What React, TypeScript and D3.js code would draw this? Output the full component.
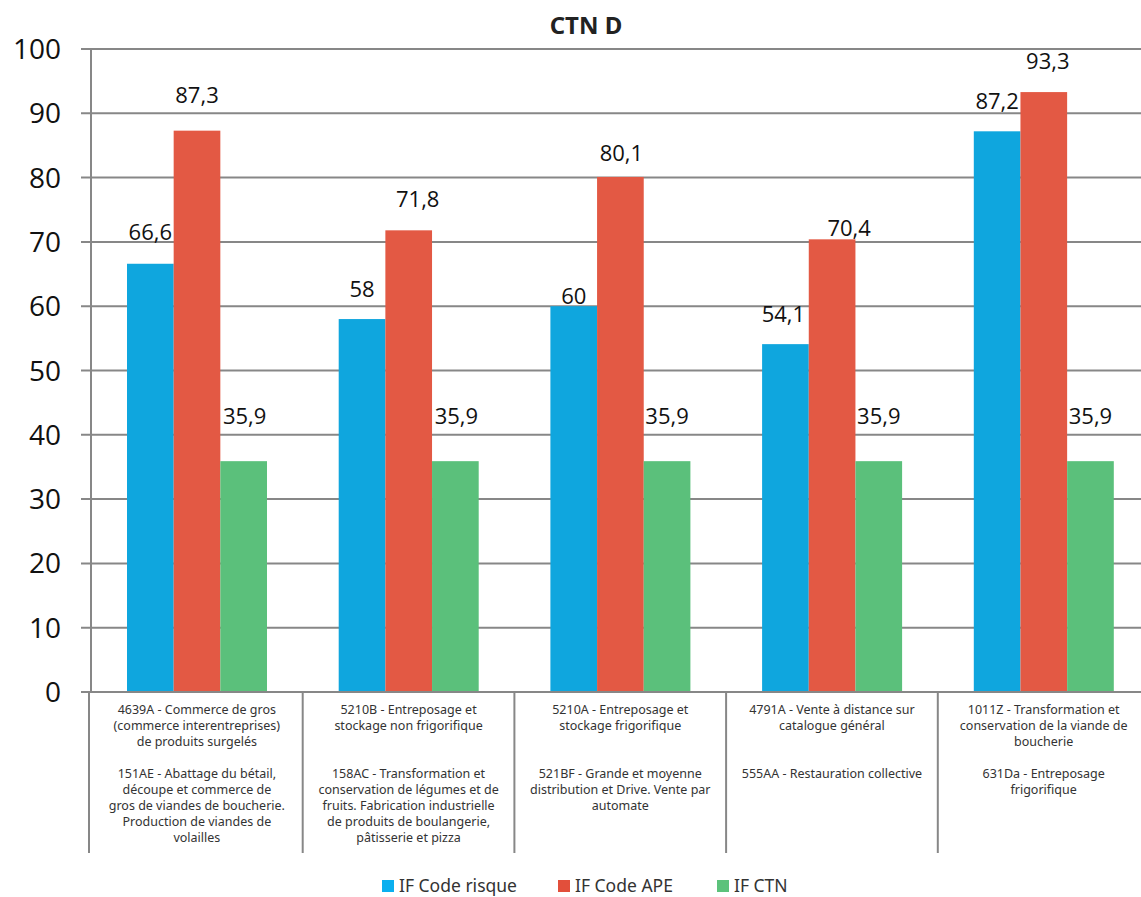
import React from "react";
import { scaleBand, scaleLinear, range } from "d3";

const title = "CTN D";

const seriesNames = ["IF Code risque", "IF Code APE", "IF CTN"];
const seriesColors = ["#0FA6DE", "#E35944", "#5BC07B"];
const legendColors = ["#0AAFEF", "#E24F3B", "#5CC27B"];

const categories = [
  [
    ["4639A - Commerce de gros", "(commerce interentreprises)", "de produits surgelés"],
    ["151AE - Abattage du bétail,", "découpe et commerce de", "gros de viandes de boucherie.", "Production de viandes de", "volailles"],
  ],
  [
    ["5210B - Entreposage et", "stockage non frigorifique"],
    ["158AC - Transformation et", "conservation de légumes et de", "fruits. Fabrication industrielle", "de produits de boulangerie,", "pâtisserie et pizza"],
  ],
  [
    ["5210A - Entreposage et", "stockage frigorifique"],
    ["521BF - Grande et moyenne", "distribution et Drive. Vente par", "automate"],
  ],
  [
    ["4791A - Vente à distance sur", "catalogue général"],
    ["555AA - Restauration collective"],
  ],
  [
    ["1011Z - Transformation et", "conservation de la viande de", "boucherie"],
    ["631Da - Entreposage", "frigorifique"],
  ],
];

const codeRisque = [66.6, 58, 60, 54.1, 87.2];
const codeAPE = [87.3, 71.8, 80.1, 70.4, 93.3];
const ctn = [35.9, 35.9, 35.9, 35.9, 35.9];

const yTicks = [0, 10, 20, 30, 40, 50, 60, 70, 80, 90, 100];

// label placement (labels were moved by hand in the original)
const seriesLabelLift = [30, 31, 45];
const labelNudges: Record<string, [number, number]> = {
  "0-0": [0, -2],
  "0-2": [0, 20],
  "0-3": [-2, 0],
  "1-0": [0, -5],
  "1-1": [9, 0],
  "1-2": [1, 7],
  "1-3": [17, 20],
  "1-4": [4, 0],
  "2-0": [1, 0],
  "2-1": [1, 0],
};

const W = 1141;
const H = 897;
const M = { left: 91, top: 49, bottom: 692 };
const BAND = 211.7;

export default function App() {
  const values = [codeRisque, codeAPE, ctn];
  const x = scaleBand<number>()
    .domain(range(categories.length))
    .range([M.left, M.left + BAND * categories.length]);
  const xs = scaleBand<number>().domain([0, 1, 2]).range([36, 176]);
  const y = scaleLinear().domain([0, 100]).range([M.bottom, M.top]);
  const fmt = (v: number) => String(v).replace(".", ",");
  const grid = "#878787";

  const legendX = [382, 558, 717];

  return (
    <svg
      width={W}
      height={H}
      style={{ position: "absolute", left: 0, top: 0, background: "#fff" }}
      fontFamily="'Open Sans', 'Noto Sans', sans-serif"
    >
      <text x={586} y={34} textAnchor="middle" fontSize={24} fontWeight="bold" fill="#222" fontFamily="'Noto Sans', sans-serif">
        {title}
      </text>

      {yTicks.map((t) => (
        <g key={t}>
          <line x1={81} x2={W} y1={y(t)} y2={y(t)} stroke={grid} strokeWidth={2} />
          <text x={61} y={y(t)} dy="0.36em" textAnchor="end" fontSize={28} fill="#111">
            {t}
          </text>
        </g>
      ))}
      <line x1={M.left} x2={M.left} y1={M.top} y2={M.bottom} stroke={grid} strokeWidth={2} />

      {categories.map((_, i) => (
        <line key={i} x1={i === 0 ? 89 : x(i)!} x2={i === 0 ? 89 : x(i)!} y1={M.bottom} y2={853} stroke={grid} strokeWidth={2} />
      ))}

      {values.map((vals, s) =>
        vals.map((v, i) => (
          <rect
            key={`${s}-${i}`}
            x={x(i)! + xs(s)!}
            y={y(v)}
            width={xs.bandwidth()}
            height={y(0) - y(v)}
            fill={seriesColors[s]}
          />
        ))
      )}
      <line x1={81} x2={W} y1={M.bottom} y2={M.bottom} stroke={grid} strokeWidth={2} />

      {values.map((vals, s) =>
        vals.map((v, i) => {
          const n = labelNudges[`${s}-${i}`] || [0, 0];
          return (
            <text
              key={`l${s}-${i}`}
              x={x(i)! + xs(s)! + xs.bandwidth() / 2 + n[0]}
              y={y(v) - seriesLabelLift[s] + n[1]}
              dy="0.36em"
              textAnchor="middle"
              fontSize={22}
              fill="#111"
            >
              {fmt(v)}
            </text>
          );
        })
      )}

      {categories.map((blocks, i) => {
        const cx = x(i)! + x.bandwidth() / 2;
        return (
          <text key={`c${i}`} textAnchor="middle" fontSize={12.5} fill="#333" fontFamily="'Noto Sans', sans-serif">
            {blocks.map((b, bi) =>
              b.map((ln, k) => (
                <tspan key={`${bi}-${k}`} x={cx} y={714 + bi * 64 + k * 16}>
                  {ln}
                </tspan>
              ))
            )}
          </text>
        );
      })}

      {seriesNames.map((name, s) => (
        <g key={name} transform={`translate(${legendX[s]},0)`}>
          <rect x={0} y={880} width={12} height={12} fill={legendColors[s]} />
          <text x={17} y={886} dy="0.36em" fontSize={17.5} fill="#333" fontFamily="'Noto Sans', sans-serif">
            {name}
          </text>
        </g>
      ))}
    </svg>
  );
}
